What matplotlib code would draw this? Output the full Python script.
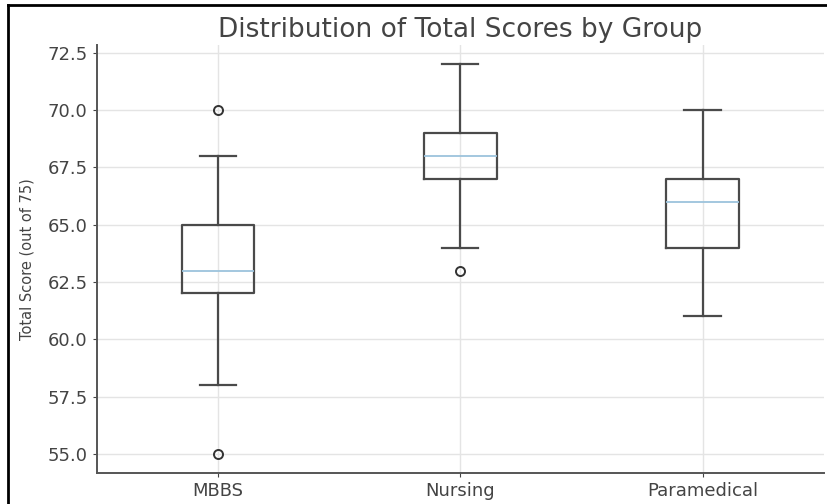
import numpy as np
import matplotlib.pyplot as plt
from matplotlib.lines import Line2D

# Box statistics
groups = ['MBBS', 'Nursing', 'Paramedical']
whis_lo = [58, 64, 61]
q1 = [62, 67, 64]
medians = [63, 68, 66]
q3 = [65, 69, 67]
whis_hi = [68, 72, 70]
outliers = [[70, 55], [63], []]

stats = []
for i, g in enumerate(groups):
    stats.append(dict(label=g, whislo=whis_lo[i], q1=q1[i], med=medians[i],
                      q3=q3[i], whishi=whis_hi[i], fliers=outliers[i]))

fig = plt.figure(figsize=(8.27, 5.04), dpi=100)
ax = fig.add_axes([0.117, 0.061, 0.879, 0.85])

line_c = '#4a4a4a'
ax.bxp(stats,
       boxprops=dict(color=line_c, linewidth=1.6),
       whiskerprops=dict(color=line_c, linewidth=1.6),
       capprops=dict(color=line_c, linewidth=1.6),
       medianprops=dict(color='#9cc3dc', linewidth=1.3),
       flierprops=dict(marker='o', markerfacecolor='none',
                       markeredgecolor='#333333', markersize=6.5,
                       markeredgewidth=1.4))

# Style: light grid, only left and bottom spines
ax.grid(True, color='#e4e4e4', linewidth=1.0)
ax.set_axisbelow(True)
for s in ['top', 'right']:
    ax.spines[s].set_visible(False)
for s in ['left', 'bottom']:
    ax.spines[s].set_color('#555555')
    ax.spines[s].set_linewidth(1.4)
ax.tick_params(labelsize=13, colors='#444444', length=3)
ax.set_yticks(np.arange(55, 72.6, 2.5))

ax.set_title('Distribution of Total Scores by Group', fontsize=19,
             color='#444444', pad=6)
ax.set_ylabel('Total Score (out of 75)', fontsize=10.5, color='#444444',
              labelpad=9)

# Black frame of the screenshot (left and top edges)
fig.add_artist(Line2D([8 / 827, 8 / 827], [0, 1 - 5 / 504],
                      transform=fig.transFigure, color='black', linewidth=2))
fig.add_artist(Line2D([8 / 827, 1], [1 - 5 / 504, 1 - 5 / 504],
                      transform=fig.transFigure, color='black', linewidth=2))

fig.savefig('out.png', dpi=100)
